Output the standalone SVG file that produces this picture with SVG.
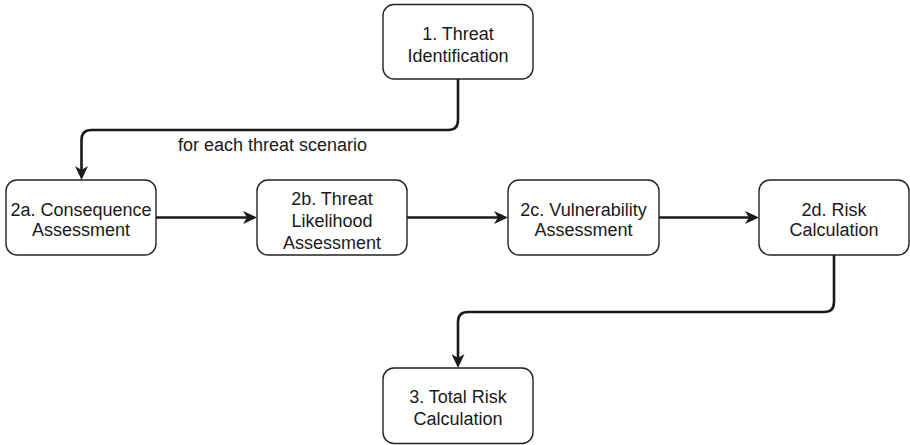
<svg xmlns="http://www.w3.org/2000/svg" width="910" height="445" viewBox="0 0 910 445">
  <style>
    .box { fill: #ffffff; stroke: #222222; stroke-width: 1.4; }
    .lbl { font-family: "Liberation Sans", Arial, sans-serif; font-size: 18px; fill: #1a1a1a; text-anchor: middle; }
    .edge { fill: none; stroke: #1a1a1a; stroke-width: 2.6; }
  </style>
  <defs>
    <marker id="arrow" viewBox="0 0 14 13" refX="4" refY="6.5" markerWidth="14" markerHeight="13" markerUnits="userSpaceOnUse" orient="auto">
      <path d="M0,0 L14,6.5 L0,13 L4,6.5 z" fill="#1a1a1a"/>
    </marker>
  </defs>
  <rect width="910" height="445" fill="#ffffff"/>

  <g id="connectors">
    <path class="edge" d="M458,79 V120 Q458,130 448,130 H91.5 Q81.5,130 81.5,140 V170" marker-end="url(#arrow)"/>
    <text class="lbl" x="272.5" y="151">for each threat scenario</text>
    <path class="edge" d="M156,217.5 H247" marker-end="url(#arrow)"/>
    <path class="edge" d="M407,217.5 H498" marker-end="url(#arrow)"/>
    <path class="edge" d="M659,217.5 H749" marker-end="url(#arrow)"/>
    <path class="edge" d="M834,255 V302 Q834,312 824,312 H468 Q458,312 458,322 V358" marker-end="url(#arrow)"/>
  </g>

  <g id="n1">
    <rect class="box" x="383" y="4.5" width="150" height="74.5" rx="11"/>
    <text class="lbl" x="458" y="40">1. Threat</text>
    <text class="lbl" x="458" y="62">Identification</text>
  </g>
  <g id="n2a">
    <rect class="box" x="6" y="180" width="150" height="75" rx="11"/>
    <text class="lbl" x="81" y="216">2a. Consequence</text>
    <text class="lbl" x="81" y="236">Assessment</text>
  </g>
  <g id="n2b">
    <rect class="box" x="257" y="180" width="150" height="75" rx="11"/>
    <text class="lbl" x="332" y="205">2b. Threat</text>
    <text class="lbl" x="332" y="227">Likelihood</text>
    <text class="lbl" x="332" y="249">Assessment</text>
  </g>
  <g id="n2c">
    <rect class="box" x="508" y="180" width="151" height="75" rx="11"/>
    <text class="lbl" x="583.5" y="216">2c. Vulnerability</text>
    <text class="lbl" x="583.5" y="236">Assessment</text>
  </g>
  <g id="n2d">
    <rect class="box" x="759" y="180" width="150" height="75" rx="11"/>
    <text class="lbl" x="834" y="216">2d. Risk</text>
    <text class="lbl" x="834" y="236">Calculation</text>
  </g>
  <g id="n3">
    <rect class="box" x="383" y="368" width="150" height="75.5" rx="11"/>
    <text class="lbl" x="458" y="403">3. Total Risk</text>
    <text class="lbl" x="458" y="425">Calculation</text>
  </g>
</svg>
